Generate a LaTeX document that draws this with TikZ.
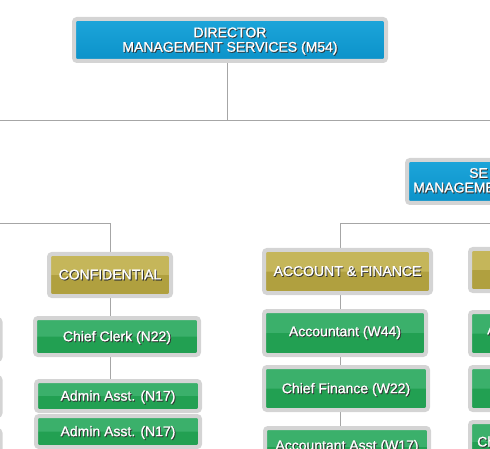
\documentclass[tikz,border=0pt]{standalone}
\usepackage{fontspec}
\setmainfont{Liberation Sans}
\newfontfamily\boxfont{Liberation Sans}[FakeBold=1.0]
\definecolor{bordergray}{HTML}{D4D4D4}
\definecolor{linegray}{HTML}{A6A6A6}
\definecolor{bluetop}{HTML}{1DA5DA}
\definecolor{bluebot}{HTML}{0B92C9}
\definecolor{goldtop}{HTML}{C5B65A}
\definecolor{goldbot}{HTML}{B0A03F}
\definecolor{greentop}{HTML}{3BB06B}
\definecolor{greenbot}{HTML}{22A052}
\definecolor{shadowc}{HTML}{333333}
\newcommand\shtxt[1]{\raisebox{-1.5pt}[\height][\depth]{\rlap{\kern0.9pt\raisebox{-0.9pt}{\textcolor{shadowc}{#1}}}#1}}
\newcommand\shtxtup[1]{\leavevmode\rlap{\kern0.9pt\raisebox{-0.9pt}{\textcolor{shadowc}{#1}}}#1}
\pgfdeclarelayer{bg}
\pgfsetlayers{bg,main}
\tikzset{
  orgbox/.style={draw=bordergray, line width=4pt, rounded corners=3pt, inner sep=0pt,
    text=white, font=\boxfont\fontsize{14}{14.5}\selectfont, align=center},
  bluebox/.style={orgbox, top color=bluetop, bottom color=bluebot},
  goldbox/.style={orgbox, fill=goldtop, path picture={\fill[goldbot] (path picture bounding box.west) rectangle (path picture bounding box.south east);}},
  greenbox/.style={orgbox, fill=greentop, path picture={\fill[greenbot] (path picture bounding box.west) rectangle (path picture bounding box.south east);}},
  conn/.style={draw=linegray, line width=1pt},
  lbl/.style={text=white, font=\boxfont\fontsize{14}{14.5}\selectfont, inner sep=0pt, anchor=west},
}
\begin{document}
\begin{tikzpicture}[x=1pt,y=-1pt]
\useasboundingbox (0,0) rectangle (490,449);
\clip (0,0) rectangle (490,449);
% top level
\node[bluebox, minimum width=312pt, minimum height=42pt] (dir) at (230,40)
  {\shtxt{DIRECTOR}\\\shtxt{MANAGEMENT SERVICES (M54)}};
\node[bluebox, minimum width=200pt, minimum height=43pt] (se) at (507,181.5) {};
\node[lbl] (set1) at (469,173.5) {\shtxtup{SE}};
\node[lbl] (set2) at (413,188) {\shtxtup{MANAGEME}};
% left partial boxes
\node[orgbox, fill=greentop, minimum width=160pt, minimum height=41pt] (l1) at (-79.5,339.5) {};
\node[orgbox, fill=greentop, minimum width=160pt, minimum height=39pt] (l2) at (-79.5,396.5) {};
\node[orgbox, fill=greentop, minimum width=160pt, minimum height=40pt] (l3) at (-79.5,450) {};
% confidential column
\node[goldbox, minimum width=122pt, minimum height=42pt] (conf) at (110,275) {\shtxtup{CONFIDENTIAL}};
\node[greenbox, minimum width=164pt, minimum height=37pt] (cc) at (117,336.5) {\shtxt{Chief Clerk (N22)}};
\node[greenbox, minimum width=164pt, minimum height=30pt] (aa1) at (118,396) {\shtxt{Admin Asst. (N17)}};
\node[greenbox, minimum width=164pt, minimum height=31pt] (aa2) at (118,431.5) {\shtxt{Admin Asst. (N17)}};
% account & finance column
\node[goldbox, minimum width=167pt, minimum height=43pt] (acc) at (347.5,271.5) {\shtxtup{ACCOUNT \& FINANCE}};
\node[greenbox, minimum width=162pt, minimum height=44pt] (w44) at (345,333) {\shtxtup{Accountant (W44)}};
\node[greenbox, minimum width=164pt, minimum height=43pt] (cf) at (346,388.5) {\shtxt{Chief Finance (W22)}};
\node[greenbox, minimum width=164pt, minimum height=38pt] (aas) at (347,447) {\shtxtup{Accountant Asst (W17)}};
% right column (partial)
\node[goldbox, minimum width=160pt, minimum height=42pt] (rg) at (550,270) {};
\node[greenbox, minimum width=160pt, minimum height=43pt] (r1) at (550,333.5) {};
\node[greenbox, minimum width=160pt, minimum height=43pt] (r2) at (550,388.5) {};
\node[greenbox, minimum width=160pt, minimum height=40pt] (r3) at (550,442) {};
\node[lbl] (r1t) at (487,330) {\shtxtup{A}};
\node[lbl] (r3t) at (477,442) {\shtxtup{Ch}};
% connectors
\coordinate (hA) at (0,121);
\coordinate (hB) at (490,121);
\coordinate (j0) at (227,121);
\coordinate (lA) at (0,224);
\coordinate (lB) at (110,224);
\coordinate (rA) at (490,224);
\coordinate (rB) at (340,224);
\begin{pgfonlayer}{bg}
\draw[conn] (dir.south -| j0) -- (j0);
\draw[conn] (hA) -- (hB);
\draw[conn] (lA) -- (lB) -- (lB |- conf.north);
\draw[conn] (rA) -- (rB) -- (rB |- acc.north);
\draw[conn] (conf.south -| lB) -- (cc.north -| lB);
\draw[conn] (cc.south -| lB) -- (aa1.north -| lB);
\draw[conn] (acc.south -| rB) -- (w44.north -| rB);
\draw[conn] (w44.south -| rB) -- (cf.north -| rB);
\draw[conn] (cf.south -| rB) -- (aas.north -| rB);
\end{pgfonlayer}
\end{tikzpicture}
\end{document}
